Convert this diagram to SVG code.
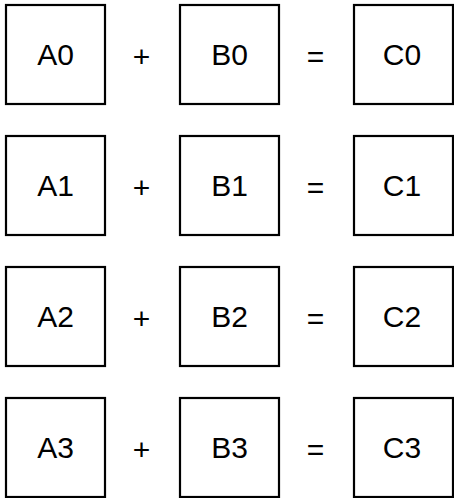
<svg xmlns="http://www.w3.org/2000/svg" width="454" height="498" viewBox="0 0 454 498">
<style>
.box{fill:#fff;stroke:#000;stroke-width:2.2}
.lbl{font-family:"Liberation Sans",Arial,sans-serif;font-size:30px;fill:#000;text-anchor:middle}
</style>
<rect width="454" height="498" fill="#fff"/>
<g id="A0"><rect class="box" x="6" y="5" width="99" height="99"/><text class="lbl" x="55.5" y="65">A0</text></g>
<g id="B0"><rect class="box" x="180" y="5" width="99" height="99"/><text class="lbl" x="229.5" y="65">B0</text></g>
<g id="C0"><rect class="box" x="354" y="5" width="99" height="99"/><text class="lbl" x="402" y="65">C0</text></g>
<g id="A1"><rect class="box" x="6" y="136" width="99" height="99"/><text class="lbl" x="55.5" y="196">A1</text></g>
<g id="B1"><rect class="box" x="180" y="136" width="99" height="99"/><text class="lbl" x="229.5" y="196">B1</text></g>
<g id="C1"><rect class="box" x="354" y="136" width="99" height="99"/><text class="lbl" x="402" y="196">C1</text></g>
<g id="A2"><rect class="box" x="6" y="267" width="99" height="99"/><text class="lbl" x="55.5" y="327">A2</text></g>
<g id="B2"><rect class="box" x="180" y="267" width="99" height="99"/><text class="lbl" x="229.5" y="327">B2</text></g>
<g id="C2"><rect class="box" x="354" y="267" width="99" height="99"/><text class="lbl" x="402" y="327">C2</text></g>
<g id="A3"><rect class="box" x="6" y="398" width="99" height="99"/><text class="lbl" x="55.5" y="458">A3</text></g>
<g id="B3"><rect class="box" x="180" y="398" width="99" height="99"/><text class="lbl" x="229.5" y="458">B3</text></g>
<g id="C3"><rect class="box" x="354" y="398" width="99" height="99"/><text class="lbl" x="402" y="458">C3</text></g>
<g id="operators">
<text class="lbl" x="141.5" y="67">+</text><text class="lbl" x="315.5" y="67">=</text>
<text class="lbl" x="141.5" y="198">+</text><text class="lbl" x="315.5" y="198">=</text>
<text class="lbl" x="141.5" y="329">+</text><text class="lbl" x="315.5" y="329">=</text>
<text class="lbl" x="141.5" y="460">+</text><text class="lbl" x="315.5" y="460">=</text>
</g>
<g id="connectors"></g>
</svg>
